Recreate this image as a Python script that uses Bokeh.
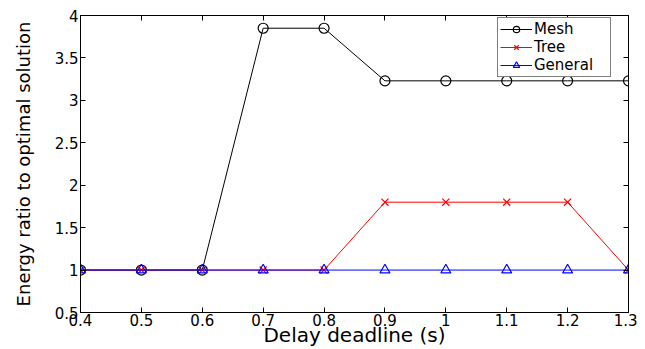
from bokeh.plotting import figure
from bokeh.models import LinearAxis, Range1d, FixedTicker, Legend
from bokeh.embed import file_html
from bokeh.resources import INLINE

deadline = [0.4, 0.5, 0.6, 0.7, 0.8, 0.9, 1.0, 1.1, 1.2, 1.3]
mesh = [1.0, 1.0, 1.0, 3.85, 3.85, 3.23, 3.23, 3.23, 3.23, 3.23]
tree = [1.0, 1.0, 1.0, 1.0, 1.0, 1.8, 1.8, 1.8, 1.8, 1.0]
general = [1.0, 1.0, 1.0, 1.0, 1.0, 1.0, 1.0, 1.0, 1.0, 1.0]
xticks = [0.4, 0.5, 0.6, 0.7, 0.8, 0.9, 1.0, 1.1, 1.2, 1.3]
xtick_labels = {0.4: "0.4", 0.5: "0.5", 0.6: "0.6", 0.7: "0.7", 0.8: "0.8", 0.9: "0.9",
                1.0: "1", 1.1: "1.1", 1.2: "1.2", 1.3: "1.3"}
yticks = [0.5, 1.0, 1.5, 2.0, 2.5, 3.0, 3.5, 4.0]
ytick_labels = {0.5: "0.5", 1.0: "1", 1.5: "1.5", 2.0: "2", 2.5: "2.5", 3.0: "3", 3.5: "3.5", 4.0: "4"}

FONT = "DejaVu Sans"

p = figure(width=637, height=349, output_backend="svg", toolbar_location=None,
           x_range=Range1d(0.4, 1.3), y_range=Range1d(0.5, 4.0),
           min_border_left=80, min_border_right=9, min_border_top=15, min_border_bottom=36,
           x_axis_label="Delay deadline (s)", y_axis_label="Energy ratio to optimal solution")
p.xgrid.visible = False
p.ygrid.visible = False
p.outline_line_color = "black"
p.outline_line_width = 1

def style(ax, ticks, labels, show):
    ax.ticker = FixedTicker(ticks=ticks)
    ax.major_label_overrides = labels
    ax.major_tick_in = 5
    ax.major_tick_out = 0
    ax.minor_tick_in = 0
    ax.minor_tick_out = 0
    ax.axis_line_color = "black"
    ax.major_tick_line_color = "black"
    if show:
        ax.major_label_text_font = FONT
        ax.major_label_text_font_size = "15px"
        ax.major_label_text_color = "black"
        ax.major_label_standoff = 2
        ax.axis_label_text_font = FONT
        ax.axis_label_text_font_style = "normal"
        ax.axis_label_text_color = "black"
    else:
        ax.major_label_text_font_size = "1px"
        ax.major_label_standoff = 0

style(p.xaxis[0], xticks, xtick_labels, True)
style(p.yaxis[0], yticks, ytick_labels, True)
p.xaxis[0].axis_label_text_font_size = "20px"
p.xaxis[0].axis_label_standoff = -6
p.xaxis[0].major_label_standoff = 1
p.yaxis[0].axis_label_text_font_size = "18px"
p.yaxis[0].axis_label_standoff = 18

top = LinearAxis()
right = LinearAxis()
style(top, xticks, {t: "" for t in xticks}, False)
style(right, yticks, {t: "" for t in yticks}, False)
p.add_layout(top, "above")
p.add_layout(right, "right")

r1 = p.line(deadline, mesh, color="black", line_width=1)
s1 = p.scatter(deadline, mesh, marker="circle", size=10, fill_color=None, line_color="black", line_width=1.2)
r2 = p.line(deadline, tree, color="red", line_width=1)
s2 = p.scatter(deadline, tree, marker="x", size=10, line_color="red", line_width=1.2)
r3 = p.line(deadline, general, color="blue", line_width=1)
s3 = p.scatter(deadline, general, marker="triangle", size=10, fill_color=None, line_color="blue", line_width=1.2)

legend = Legend(items=[("Mesh", [r1, s1]), ("Tree", [r2, s2]), ("General", [r3, s3])],
                location=(417, 235))
legend.border_line_color = "black"
legend.border_line_width = 1
legend.label_text_font = FONT
legend.label_text_font_size = "15px"
legend.label_text_color = "black"
legend.label_height = 16
legend.label_width = 74
legend.glyph_height = 16
legend.glyph_width = 32
legend.spacing = 0
legend.padding = 2
legend.margin = 0
legend.label_standoff = 2
legend.background_fill_alpha = 1
p.add_layout(legend, "center")

open("out.html", "w").write(file_html(p, INLINE))
